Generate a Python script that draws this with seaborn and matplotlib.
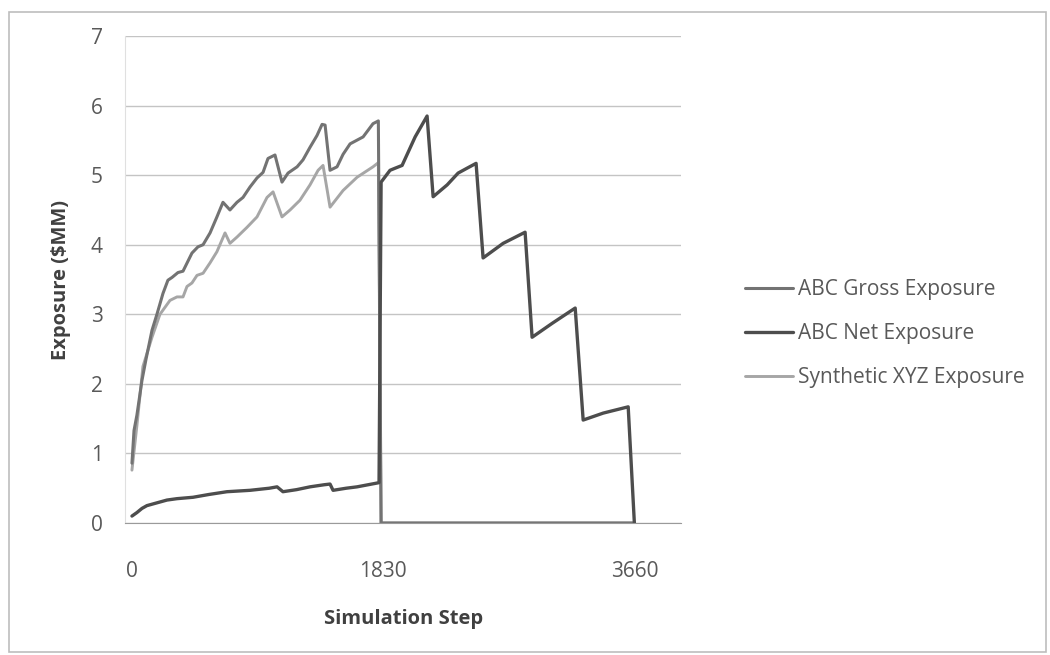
import numpy as np
import pandas as pd
import matplotlib
matplotlib.use('Agg')
import matplotlib.pyplot as plt
from matplotlib.patches import Rectangle
import seaborn as sns

# values (step, $MM)
gross_steps = [0, 15, 36, 73, 102, 146, 182, 226, 262, 292, 335, 372, 437, 481, 518, 569, 619, 663,
               714, 765, 809, 860, 911, 955, 991, 1042, 1093, 1137, 1203, 1246, 1297, 1348, 1385,
               1407, 1443, 1494, 1538, 1589, 1684, 1756, 1795, 1815, 3660]
gross_vals = [0.86, 1.33, 1.55, 2.05, 2.35, 2.77, 3.0, 3.3, 3.49, 3.53, 3.6, 3.62, 3.88, 3.97, 4.0,
              4.17, 4.4, 4.61, 4.5, 4.61, 4.68, 4.83, 4.96, 5.04, 5.24, 5.29, 4.9, 5.03, 5.12, 5.22,
              5.4, 5.57, 5.73, 5.72, 5.07, 5.12, 5.3, 5.45, 5.55, 5.74, 5.78, 0, 0]

net_steps = [0, 36, 73, 109, 182, 255, 328, 445, 560, 692, 860, 1000, 1057, 1100, 1200, 1297, 1400,
             1443, 1465, 1560, 1640, 1800, 1815, 1880, 1917, 1968, 2063, 2150, 2194, 2296, 2376,
             2441, 2507, 2558, 2704, 2864, 2915, 3061, 3229, 3287, 3433, 3615, 3660]
net_vals = [0.1, 0.15, 0.21, 0.25, 0.29, 0.33, 0.35, 0.37, 0.41, 0.45, 0.47, 0.5, 0.52, 0.45, 0.48,
            0.52, 0.55, 0.56, 0.47, 0.5, 0.52, 0.58, 4.9, 5.07, 5.1, 5.14, 5.55, 5.85, 4.69, 4.86,
            5.03, 5.1, 5.17, 3.81, 4.02, 4.18, 2.67, 2.87, 3.09, 1.48, 1.58, 1.67, 0]

syn_steps = [0, 36, 80, 146, 204, 277, 328, 372, 401, 437, 474, 518, 569, 619, 678, 714, 765, 838,
             911, 984, 1028, 1093, 1152, 1224, 1297, 1356, 1392, 1443, 1538, 1640, 1756, 1795,
             1815, 3660]
syn_vals = [0.76, 1.4, 2.25, 2.67, 3.0, 3.2, 3.25, 3.25, 3.4, 3.45, 3.56, 3.59, 3.74, 3.9, 4.17,
            4.02, 4.11, 4.25, 4.4, 4.68, 4.76, 4.4, 4.5, 4.64, 4.86, 5.07, 5.14, 4.54, 4.78, 4.97,
            5.12, 5.18, 0, 0]

x_ticks = [0, 1830, 3660]

sns.set_style("white")
plt.rcParams['font.family'] = ['Open Sans', 'DejaVu Sans']

fig = plt.figure(figsize=(10.5, 6.55), dpi=100)
ax = fig.add_axes([0.119, 0.2015, 0.53, 0.7435])

sns.lineplot(x=syn_steps, y=syn_vals, sort=False, estimator=None, color='#a6a6a6',
             linewidth=2.1, ax=ax, label='Synthetic XYZ Exposure')
sns.lineplot(x=gross_steps, y=gross_vals, sort=False, estimator=None, color='#737373',
             linewidth=2.2, ax=ax, label='ABC Gross Exposure')
sns.lineplot(x=net_steps, y=net_vals, sort=False, estimator=None, color='#4d4d4d',
             linewidth=2.4, ax=ax, label='ABC Net Exposure')

ax.set_xlim(-51, 4003)
ax.set_ylim(0, 7)
ax.set_yticks(range(0, 8))
ax.set_xticks(x_ticks)
ax.yaxis.grid(True, color='#c4c4c4', linewidth=1.0)
ax.set_axisbelow(True)
for s in ['top', 'right']:
    ax.spines[s].set_visible(False)
ax.spines['left'].set_color('#e0e0e0')
ax.spines['bottom'].set_color('#9a9a9a')
ax.tick_params(axis='x', length=5, color='#9a9a9a', pad=22, labelsize=15, labelcolor='#595959')
ax.tick_params(axis='y', length=0, pad=16, labelsize=15, labelcolor='#595959')

ax.set_xlabel('Simulation Step', fontsize=14.5, fontweight='bold', color='#404040', labelpad=20)
ax.set_ylabel('Exposure ($MM)', fontsize=14.5, fontweight='bold', color='#404040', labelpad=14)

handles, labels = ax.get_legend_handles_labels()
order = [1, 2, 0]
ax.legend([handles[i] for i in order], [labels[i] for i in order],
          loc='center left', bbox_to_anchor=(0.692, 0.491), bbox_transform=fig.transFigure,
          frameon=False, fontsize=15, handlelength=2.3, handletextpad=0.25, labelspacing=1.1,
          labelcolor='#595959')

fig.patches.append(Rectangle((0.009, 0.004), 0.987, 0.978, transform=fig.transFigure,
                             fill=False, edgecolor='#bdbdbd', linewidth=1.2))

fig.savefig('out.png', dpi=100)
